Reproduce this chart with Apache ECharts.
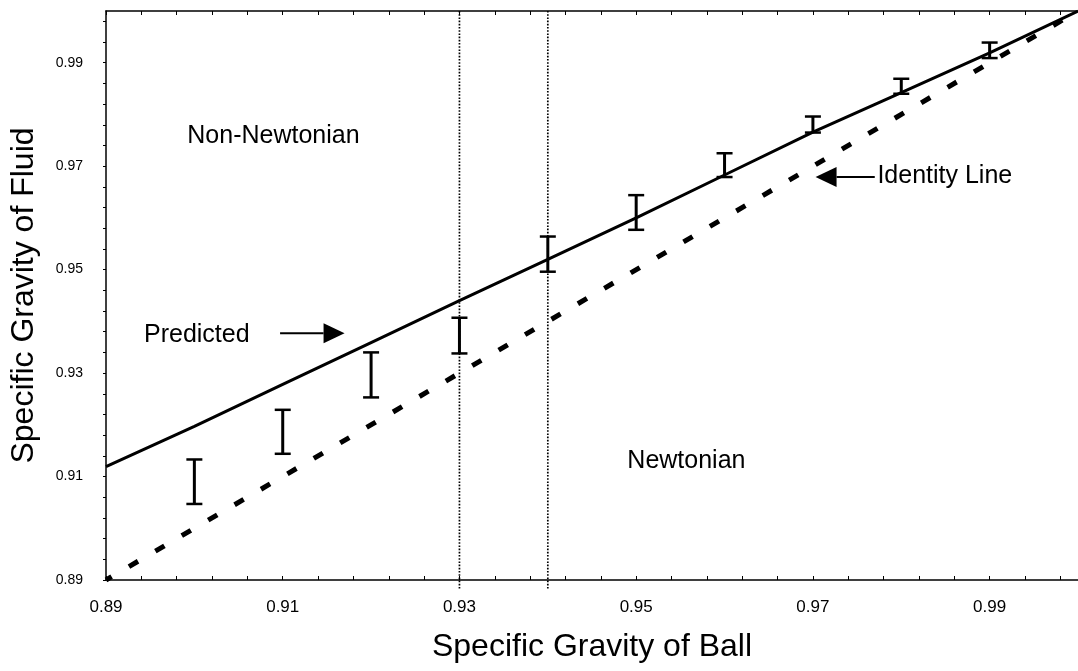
<!DOCTYPE html>
<html>
<head>
<meta charset="utf-8">
<script src="https://cdn.jsdelivr.net/npm/echarts@6/dist/echarts.min.js"></script>
<style>
html,body{margin:0;padding:0;background:#fff;}
#chart{width:1078px;height:671px;}
</style>
</head>
<body>
<div id="chart"></div>
<script>
// ---- data ----
const ballSG   = [0.90, 0.91, 0.92, 0.93, 0.94, 0.95, 0.96, 0.97, 0.98, 0.99];
const errLow   = [0.9047, 0.9144, 0.9253, 0.9338, 0.9496, 0.9577, 0.9679, 0.9765, 0.9840, 0.9909];
const errHigh  = [0.9133, 0.9229, 0.9340, 0.9407, 0.9564, 0.9644, 0.9725, 0.9796, 0.9869, 0.9939];

const predX    = [0.89, 0.90, 0.91, 0.92, 0.93, 0.94, 0.95, 0.96, 0.97, 0.98, 0.99, 1.00];
const predY    = [0.9119, 0.9197, 0.9278, 0.9359, 0.9440, 0.9520, 0.9600, 0.9683, 0.9766, 0.9842, 0.9919, 1.0000];

const identX   = [0.89, 1.00];
const identY   = [0.89, 1.00];

const boundaryX = [0.93, 0.94];

const tickLabelValues = [0.89, 0.91, 0.93, 0.95, 0.97, 0.99];
const tickLabels      = ['0.89', '0.91', '0.93', '0.95', '0.97', '0.99'];

const annoText = ['Non-Newtonian', 'Newtonian', 'Predicted', 'Identity Line'];
const annoX    = [0.8992, 0.9490, 0.8943, 0.9773];
const annoY    = [0.9759, 0.9130, 0.9373, 0.9681];

const arrowFromX = [0.9097, 0.9770];
const arrowFromY = [0.9377, 0.9679];
const arrowToX   = [0.9170, 0.9703];
const arrowToY   = [0.9377, 0.9679];

// minor tick positions (every 0.004 from 0.89)
const minorTickValues = [];
for (let i = 0; i <= 27; i++) minorTickValues.push(+(0.89 + i * 0.004).toFixed(4));

// ---- chart ----
const chart = echarts.init(document.getElementById('chart'), null, {renderer: 'canvas'});
const FONT = '"Liberation Sans", Arial, Helvetica, sans-serif';

function labelFmt(v) {
  for (let i = 0; i < tickLabelValues.length; i++) {
    if (Math.abs(v - tickLabelValues[i]) < 1e-6) return tickLabels[i];
  }
  return '';
}

const axisLineStyle = {color: '#000', width: 1.5};

const option = {
  animation: false,
  backgroundColor: '#fff',
  grid: {left: 103, right: -4, top: 11, bottom: 91, containLabel: false},
  xAxis: [{
    type: 'value', min: 0.89, max: 1.0,
    name: 'Specific Gravity of Ball', nameLocation: 'middle', nameGap: 51,
    nameTextStyle: {fontFamily: FONT, fontSize: 32, color: '#000'},
    axisLine: {show: true, lineStyle: axisLineStyle, onZero: false},
    axisTick: {show: true, inside: true, length: 4, customValues: minorTickValues, lineStyle: {color: '#000', width: 1}},
    axisLabel: {show: true, customValues: tickLabelValues, formatter: labelFmt, margin: 19,
      fontFamily: FONT, fontSize: 17, color: '#000'},
    splitLine: {show: false}
  }, {
    type: 'value', min: 0.89, max: 1.0, position: 'top',
    axisLine: {show: true, lineStyle: axisLineStyle, onZero: false},
    axisTick: {show: true, inside: true, length: 4, customValues: minorTickValues, lineStyle: {color: '#000', width: 1}},
    axisLabel: {show: false},
    splitLine: {show: false}
  }],
  yAxis: [{
    type: 'value', min: 0.89, max: 1.0,
    name: 'Specific Gravity of Fluid', nameLocation: 'middle', nameGap: 66,
    nameTextStyle: {fontFamily: FONT, fontSize: 32, color: '#000'},
    axisLine: {show: true, lineStyle: axisLineStyle, onZero: false},
    axisTick: {show: true, inside: false, length: 3, customValues: minorTickValues, lineStyle: {color: '#000', width: 1}},
    axisLabel: {show: true, customValues: tickLabelValues, formatter: labelFmt, margin: 23,
      fontFamily: FONT, fontSize: 14, color: '#000'},
    splitLine: {show: false}
  }],
  series: [
    // vertical dotted boundary lines
    {
      type: 'custom', clip: false, silent: true,
      data: boundaryX.map(x => [x]),
      renderItem: function (params, api) {
        const x = api.value(0);
        const top = api.coord([x, 1.0]);
        const bot = api.coord([x, 0.8882]);
        return {type: 'line', shape: {x1: top[0], y1: top[1], x2: bot[0], y2: bot[1]},
          style: {stroke: '#000', lineWidth: 1.7, lineDash: [1.6, 1.6]}};
      }
    },
    // identity line
    {
      type: 'line', symbol: 'none', silent: true,
      data: identX.map((x, i) => [x, identY[i]]),
      lineStyle: {color: '#000', width: 5, type: [10.5, 20.1], dashOffset: 4, cap: 'butt'}
    },
    // predicted line
    {
      type: 'line', symbol: 'none', silent: true,
      data: predX.map((x, i) => [x, predY[i]]),
      lineStyle: {color: '#000', width: 3}
    },
    // error bars
    {
      type: 'custom', silent: true,
      data: ballSG.map((x, i) => [x, errLow[i], errHigh[i]]),
      renderItem: function (params, api) {
        const x = api.value(0);
        const lo = api.coord([x, api.value(1)]);
        const hi = api.coord([x, api.value(2)]);
        const hw = 8;
        return {type: 'group', children: [
          {type: 'line', shape: {x1: hi[0], y1: hi[1], x2: lo[0], y2: lo[1]}, style: {stroke: '#000', lineWidth: 3}},
          {type: 'line', shape: {x1: hi[0] - hw, y1: hi[1], x2: hi[0] + hw, y2: hi[1]}, style: {stroke: '#000', lineWidth: 2.5}},
          {type: 'line', shape: {x1: lo[0] - hw, y1: lo[1], x2: lo[0] + hw, y2: lo[1]}, style: {stroke: '#000', lineWidth: 2.5}}
        ]};
      }
    },
    // arrows
    {
      type: 'custom', silent: true, clip: false,
      data: arrowFromX.map((x, i) => [x, arrowFromY[i], arrowToX[i], arrowToY[i]]),
      renderItem: function (params, api) {
        const a = api.coord([api.value(0), api.value(1)]);
        const b = api.coord([api.value(2), api.value(3)]);
        const dx = b[0] - a[0], dy = b[1] - a[1];
        const len = Math.sqrt(dx * dx + dy * dy);
        const ux = dx / len, uy = dy / len;
        const hl = 21, hw = 10;
        const bx = b[0] - ux * hl, by = b[1] - uy * hl;
        return {type: 'group', children: [
          {type: 'line', shape: {x1: a[0], y1: a[1], x2: bx, y2: by}, style: {stroke: '#000', lineWidth: 2}},
          {type: 'polygon', shape: {points: [[b[0], b[1]], [bx - uy * hw, by + ux * hw], [bx + uy * hw, by - ux * hw]]},
            style: {fill: '#000'}}
        ]};
      }
    },
    // annotation texts
    {
      type: 'custom', silent: true, clip: false,
      data: annoText.map((t, i) => [annoX[i], annoY[i], i]),
      renderItem: function (params, api) {
        const p = api.coord([api.value(0), api.value(1)]);
        const t = annoText[api.value(2)];
        return {type: 'text', x: p[0], y: p[1],
          style: {text: t, fill: '#000', fontFamily: FONT, fontSize: 25, align: 'left', verticalAlign: 'middle'}};
      }
    }
  ]
};
chart.setOption(option);
</script>
</body>
</html>
